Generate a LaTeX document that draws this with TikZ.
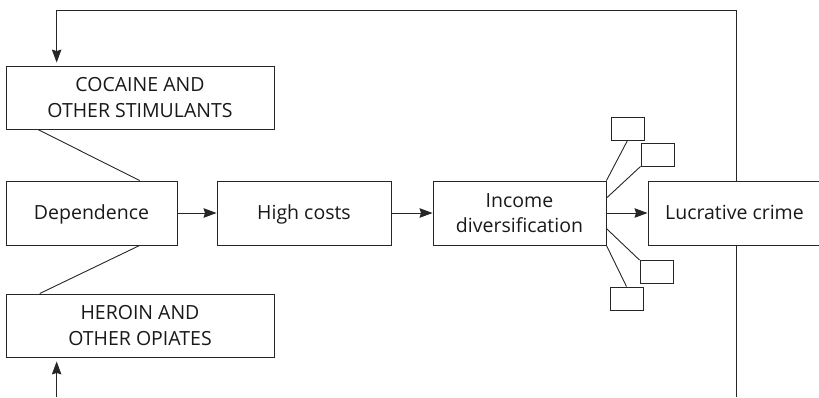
\documentclass[tikz,border=0pt]{standalone}
\usepackage{fontspec}
\setmainfont{Open Sans}
\usetikzlibrary{arrows.meta,calc}
\begin{document}
\begin{tikzpicture}[x=1pt,y=-1pt,
  line/.style={draw=black!85,line width=0.9pt},
  arr/.style={line,-{Stealth[length=13pt,width=9.5pt,inset=1.5pt]}},
  box/.style={line,rectangle,inner sep=0pt,align=center,
    font=\fontsize{19.5}{25.5}\selectfont,text=black!90,text depth=0pt},
  one/.style={box,text height=13.6pt},
  two/.style={box,text height=39.1pt},
  tiny/.style={line,rectangle,inner sep=0pt,minimum width=33pt,minimum height=23pt}]
\useasboundingbox (0,0) rectangle (819,397);
% main boxes
\node[two,minimum width=268pt,minimum height=63pt] (coc) at (140,97.5) {COCAINE AND\\OTHER STIMULANTS};
\node[one,minimum width=171pt,minimum height=64pt] (dep) at (91.5,213) {Dependence};
\node[two,minimum width=268pt,minimum height=63pt] (her) at (140,325.5) {HEROIN AND\\OTHER OPIATES};
\node[one,minimum width=174pt,minimum height=64pt] (hc) at (304,213) {High costs};
\node[two,minimum width=173pt,minimum height=64pt] (inc) at (519.5,213) {Income\\diversification};
\node[one,minimum width=173pt,minimum height=64pt] (luc) at (734.5,213) {Lucrative crime};
% small boxes
\node[tiny] (s1) at (627.5,128.5) {};
\node[tiny] (s2) at (657.5,154.5) {};
\node[tiny] (s3) at (656.5,272) {};
\node[tiny] (s4) at (626.5,298.5) {};
% main flow
\draw[arr] (dep) -- (hc);
\draw[arr] (hc) -- (inc);
\draw[arr] (inc) -- (luc);
% drug links
\draw[line] ($(coc.south west)!0.12!(coc.south east)$) -- ($(dep.north west)!0.78!(dep.north east)$);
\draw[line] ($(dep.south west)!0.78!(dep.south east)$) -- ($(her.north west)!0.127!(her.north east)$);
% fan
\draw[line,line width=1.4pt] (inc.north east) -- (inc.south east);
\draw[line] (inc.north east) -- (s1.south);
\draw[line] ($(inc.north east)!0.27!(inc.south east)$) -- (s2.south west);
\draw[line] ($(inc.north east)!0.74!(inc.south east)$) -- (s3.north west);
\draw[line] (inc.south east) -- (s4.north);
% feedback loop
\coordinate (ltop) at ($(luc.north west)!0.514!(luc.north east)$);
\coordinate (lbot) at ($(luc.south west)!0.514!(luc.south east)$);
\coordinate (tr) at (ltop |- 0,10);
\coordinate (cin) at ($(coc.north west)!0.19!(coc.north east)$);
\coordinate (tl) at (cin |- 0,10);
\coordinate (br) at (lbot |- 0,397);
\coordinate (hin) at ($(her.south west)!0.19!(her.south east)$);
\coordinate (bl) at (hin |- 0,397);
\draw[arr,shorten >=3pt] (ltop) -- (tr) -- (tl) -- (cin);
\draw[line] (lbot) -- (br);
\draw[arr,shorten >=4pt] (bl) -- (hin);
\end{tikzpicture}
\end{document}
